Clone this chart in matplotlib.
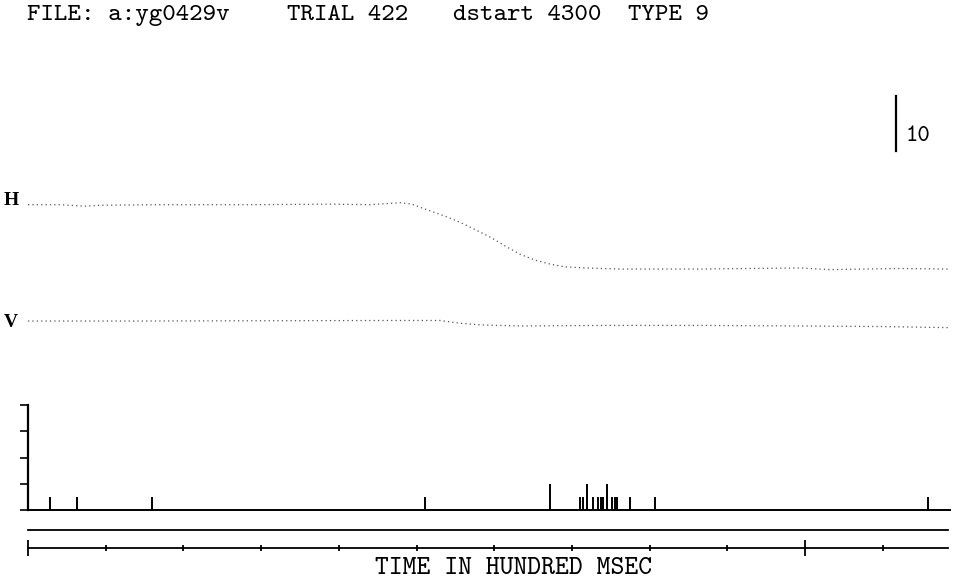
import numpy as np
import matplotlib
matplotlib.use("Agg")
import matplotlib.pyplot as plt


# -----------------------------
# data
# -----------------------------

title_parts = ["FILE: a:yg0429v", "TRIAL 422", "dstart 4300", "TYPE 9"]

# eye position traces, time in hundred msec, position in deg (relative)
h_time = [0.0, 0.41, 0.73, 0.93, 1.70, 2.86, 3.89, 4.40, 4.79, 4.94, 5.15,
          5.37, 5.56, 5.75, 5.95, 6.14, 6.33, 6.53, 6.72, 6.91, 7.17, 7.62,
          8.65, 9.94, 10.32, 11.22, 11.84]
h_pos = [0.0, 0.0, -0.27, -0.1, 0.0, 0.0, 0.1, 0.0, 0.36, 0.1, -1.0,
         -2.1, -3.2, -4.5, -5.9, -7.5, -9.0, -10.1, -10.8, -11.3, -11.5, -11.7,
         -11.7, -11.5, -11.8, -11.6, -11.7]

v_time = [0.0, 1.5, 3.0, 4.79, 5.3, 5.56, 5.82, 6.33, 7.36, 8.65, 9.94, 10.97, 11.84]
v_pos = [0.0, 0.0, 0.05, 0.1, 0.1, -0.4, -0.7, -0.9, -0.8, -0.8, -0.9, -1.0, -1.2]

# spike histogram: bin time and count
spike_t = [0.28, 0.63, 1.60, 5.11, 6.72, 7.10, 7.14, 7.19, 7.27, 7.34,
           7.37, 7.40, 7.45, 7.52, 7.55, 7.58, 7.75, 8.07, 11.58]
spike_n = [1, 1, 1, 1, 2, 1, 1, 2, 1, 1, 1, 1, 2, 1, 1, 1, 1, 1, 1]

scale_deg = 10
time_major = [0, 10]
time_minor = [1, 2, 3, 4, 5, 6, 7, 8, 9, 11]


# -----------------------------
# figure layout (pixel based)
# -----------------------------

W, H = 964, 580
fig = plt.figure(figsize=(W / 100, H / 100), dpi=100)
mono = ["cmtt10", "Liberation Mono"]


def box(x0, y0, x1, y1):
    # pixel box (top-left origin) -> figure fraction
    return [x0 / W, 1 - y1 / H, (x1 - x0) / W, (y1 - y0) / H]


t_max = 11.84
x_left, x_right = 28, 948

# title
for txt, px in zip(title_parts, [27, 287, 453, 628]):
    fig.text(px / W, 1 - 16 / H, txt, family=mono, fontsize=18.5,
             va="center", ha="left", color="black")

# -----------------------------
# eye traces
# -----------------------------

ax_eye = fig.add_axes(box(x_left, 80, x_right, 340))
ax_eye.set_xlim(0, t_max)
ax_eye.set_ylim(0, 260 / 5.5)
ax_eye.axis("off")

h_off = 24.6
v_off = 3.45
ax_eye.plot(h_time, np.array(h_pos) + h_off, color="#555", lw=0.9,
            linestyle=(0, (1, 2.5)))
ax_eye.plot(v_time, np.array(v_pos) + v_off, color="#555", lw=0.9,
            linestyle=(0, (1, 2.5)))

ax_eye.text(-0.22, h_off + 0.7, "H", family="Liberation Serif", weight="bold",
            fontsize=14, ha="center", va="center", clip_on=False)
ax_eye.text(-0.22, v_off - 0.3, "V", family="Liberation Serif", weight="bold",
            fontsize=14, ha="center", va="center", clip_on=False)

# scale bar
bar_t = 11.17
bar_bottom = 34.3
ax_eye.plot([bar_t, bar_t], [bar_bottom, bar_bottom + scale_deg], color="black",
            lw=1.6, clip_on=False)
ax_eye.text(bar_t + 0.13, bar_bottom + 2.7, str(scale_deg), family=mono,
            fontsize=17, ha="left", va="center", clip_on=False)

# -----------------------------
# spike histogram
# -----------------------------

ax_sp = fig.add_axes(box(x_left, 405, x_right + 2, 510))
ax_sp.set_xlim(0, t_max + 2 / 77.7)
ax_sp.set_ylim(0, 8)
ax_sp.vlines(spike_t, 0, spike_n, color="black", lw=1.4)
for s in ["top", "right"]:
    ax_sp.spines[s].set_visible(False)
ax_sp.spines["left"].set_linewidth(1.6)
ax_sp.spines["bottom"].set_linewidth(1.4)
ax_sp.set_yticks([0, 2, 4, 6, 8])
ax_sp.set_yticklabels([])
ax_sp.set_xticks([])
ax_sp.tick_params(axis="y", direction="out", length=6, width=1.2)
ax_sp.patch.set_visible(False)

# -----------------------------
# time axis (top spine = empty raster line)
# -----------------------------

ax_t = fig.add_axes(box(x_left, 530, x_right, 548))
ax_t.set_xlim(0, t_max)
ax_t.set_ylim(0, 1)
for s in ["left", "right"]:
    ax_t.spines[s].set_visible(False)
ax_t.spines["top"].set_linewidth(1.3)
ax_t.spines["bottom"].set_linewidth(1.3)
ax_t.set_yticks([])
ax_t.set_xticks(time_major)
ax_t.set_xticks(time_minor, minor=True)
ax_t.set_xticklabels([])
ax_t.tick_params(axis="x", which="major", direction="inout", length=12, width=1.3)
ax_t.tick_params(axis="x", which="minor", direction="inout", length=4.5, width=1.3)
ax_t.patch.set_visible(False)

fig.text(514 / W, 1 - 568 / H, "TIME IN HUNDRED MSEC",
         family=mono, fontsize=19, ha="center", va="center", color="black")

fig.savefig("out.png", dpi=100, facecolor="white")
